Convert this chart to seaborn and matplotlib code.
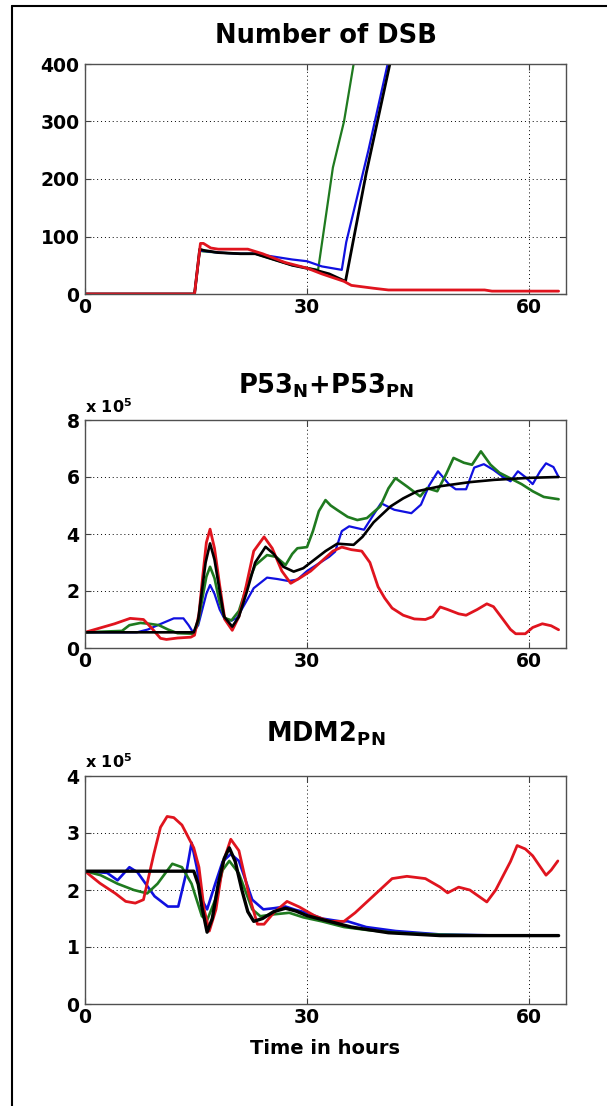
import matplotlib
matplotlib.use("Agg")
import matplotlib.pyplot as plt
from matplotlib.lines import Line2D
import seaborn as sns

sns.set_theme(style="white")
plt.rcParams['font.family'] = ['DejaVu Sans']
plt.rcParams['font.weight'] = 'bold'
plt.rcParams['mathtext.fontset'] = 'dejavusans'
plt.rcParams['mathtext.default'] = 'bf'
plt.rcParams['text.color'] = 'black'
plt.rcParams['xtick.color'] = 'black'
plt.rcParams['ytick.color'] = 'black'

# --- Number of DSB ---
dsb_black_t = [0, 14.8, 15.5, 16, 18, 21, 23, 26, 28, 31, 33, 35.2, 38, 41.2]
dsb_black_v = [0, 0, 78, 76, 72, 70, 70, 58, 50, 42, 35, 22, 210, 400]
dsb_blue_t = [0, 14.8, 15.5, 16, 18, 21, 23, 25, 28, 30, 32, 34.7, 35.3, 38.3, 40.9]
dsb_blue_v = [0, 0, 76, 75, 72, 70, 70, 66, 60, 57, 48, 42, 90, 250, 400]
dsb_green_t = [0, 14.8, 15.5, 16, 18, 21, 23, 26, 28, 31.5, 33.5, 35, 36.3]
dsb_green_v = [0, 0, 75, 74, 72, 70, 70, 58, 50, 42, 220, 300, 400]
dsb_red_t = [0, 14.8, 15.6, 16, 17, 18, 22, 24, 27, 30, 32, 35, 36, 39, 41, 54, 55, 64]
dsb_red_v = [0, 0, 88, 88, 80, 78, 78, 70, 55, 45, 35, 22, 15, 10, 7, 7, 5, 5]

# --- P53_N + P53_PN (x 1e5) ---
p53_black_t = [0, 14.7, 15.3, 15.8, 16.3, 16.9, 17.5, 18.2, 18.8, 19.9, 20.8, 21.9, 23.0, 24.4,
               25.5, 26.8, 28.2, 29.5, 31, 32.5, 34.1, 36.3, 37.5, 39.0, 41.3, 43, 44.9, 48.1,
               52, 55.3, 60, 64]
p53_black_v = [0.55, 0.55, 1.0, 2.0, 3.0, 3.67, 3.1, 2.0, 1.1, 0.75, 1.1, 2.0, 3.0, 3.55,
               3.3, 2.85, 2.68, 2.8, 3.1, 3.4, 3.66, 3.62, 3.9, 4.41, 4.97, 5.25, 5.5, 5.68,
               5.82, 5.9, 5.97, 6.0]
p53_red_t = [0, 2, 4, 6.1, 7.9, 9, 10.2, 11, 12.5, 14.3, 14.8, 15.4, 15.9, 16.4, 16.9, 17.5,
             18.2, 18.9, 19.9, 20.8, 21.8, 22.8, 24.2, 25.3, 26.6, 27.8, 29, 30.5, 32, 33.5,
             34.7, 36, 37.4, 38.5, 39.6, 40.5, 41.5, 43, 44.5, 46, 47, 48, 49, 50.5, 51.5,
             53, 54.3, 55.2, 56.5, 57.5, 58.2, 59.5, 60.5, 61.8, 63, 64]
p53_red_v = [0.55, 0.7, 0.85, 1.04, 1.0, 0.7, 0.34, 0.3, 0.35, 0.38, 0.45, 1.2, 2.5, 3.7,
             4.17, 3.5, 2.2, 1.0, 0.62, 1.1, 2.2, 3.4, 3.9, 3.5, 2.7, 2.27, 2.45, 2.7, 3.05,
             3.4, 3.54, 3.45, 3.4, 3.0, 2.15, 1.75, 1.4, 1.15, 1.02, 1.0, 1.1, 1.44, 1.35,
             1.2, 1.15, 1.35, 1.55, 1.45, 1.0, 0.65, 0.5, 0.5, 0.72, 0.85, 0.78, 0.64]
p53_green_t = [0, 5, 6, 7.5, 8.7, 10, 11.2, 12.5, 14.7, 15.3, 15.9, 16.4, 16.9, 17.5, 18.2,
               18.9, 19.8, 20.8, 21.9, 23, 24.6, 25.8, 27.1, 28.0, 28.7, 30.0, 30.8, 31.6,
               32.5, 33.2, 34.1, 35.5, 36.8, 38.1, 39.9, 41.0, 41.95, 43.5, 45.3, 46.2, 47.6,
               48.8, 49.8, 51.2, 52.3, 53.5, 54.8, 56, 57.5, 59, 60.5, 62, 64]
p53_green_v = [0.55, 0.6, 0.8, 0.88, 0.85, 0.8, 0.65, 0.52, 0.5, 0.9, 1.8, 2.5, 2.85, 2.45,
               1.6, 1.05, 0.97, 1.3, 2.2, 2.9, 3.26, 3.2, 2.91, 3.3, 3.5, 3.54, 4.1, 4.8, 5.19,
               5.0, 4.84, 4.6, 4.49, 4.56, 4.97, 5.6, 5.96, 5.67, 5.32, 5.61, 5.5, 6.1, 6.67,
               6.5, 6.43, 6.9, 6.43, 6.15, 5.95, 5.75, 5.5, 5.3, 5.22]
p53_blue_t = [0, 7, 8.5, 10, 12, 13.3, 14.0, 14.6, 15.3, 15.9, 16.4, 16.9, 17.5, 18.2, 18.9,
              19.8, 20.5, 21.5, 22.8, 24.6, 26, 27.5, 28.7, 30, 31.5, 33, 33.8, 34.7, 35.7,
              37.7, 38.8, 40.0, 41.8, 44.1, 45.4, 46.5, 47.7, 49.2, 50.1, 51.5, 52.6, 53.9,
              55.2, 56.5, 57.5, 58.5, 59.5, 60.5, 61.5, 62.3, 63.3, 64]
p53_blue_v = [0.55, 0.55, 0.65, 0.82, 1.04, 1.04, 0.8, 0.55, 0.8, 1.4, 1.9, 2.21, 1.9, 1.35,
              1.0, 0.96, 1.05, 1.5, 2.1, 2.47, 2.42, 2.35, 2.4, 2.7, 2.95, 3.2, 3.38, 4.1,
              4.27, 4.15, 4.6, 5.08, 4.85, 4.73, 5.03, 5.7, 6.2, 5.74, 5.57, 5.57, 6.33, 6.45,
              6.25, 6.0, 5.85, 6.2, 6.0, 5.75, 6.2, 6.48, 6.35, 6.0]

# --- MDM2_PN (x 1e5) ---
mdm_black_t = [0, 14.7, 15.3, 15.8, 16.5, 17.2, 18.0, 18.8, 19.5, 20.3, 21.2, 22, 22.8, 24,
               25.5, 27.1, 28.5, 30, 33, 36, 41, 48, 64]
mdm_black_v = [2.33, 2.33, 2.1, 1.7, 1.26, 1.5, 2.1, 2.55, 2.74, 2.5, 2.0, 1.62, 1.45, 1.5,
               1.62, 1.68, 1.63, 1.55, 1.45, 1.35, 1.25, 1.2, 1.2]
mdm_red_t = [0, 2, 4.1, 5.5, 6.8, 7.9, 9.3, 10.2, 11.1, 12, 13.1, 14.7, 15.4, 16.1, 16.8,
             17.7, 18.7, 19.7, 20.8, 22.2, 23.3, 24.2, 25.5, 27.3, 29, 31, 33, 35, 36.5, 39,
             41.5, 43.5, 46, 48, 49, 50.5, 52, 54.3, 55.5, 57.5, 58.4, 59.5, 60.5, 62.3, 63,
             63.9]
mdm_red_v = [2.33, 2.12, 1.94, 1.8, 1.77, 1.83, 2.63, 3.1, 3.29, 3.27, 3.14, 2.74, 2.4, 1.66,
             1.28, 1.66, 2.5, 2.89, 2.69, 1.89, 1.4, 1.4, 1.6, 1.8, 1.7, 1.55, 1.45, 1.45,
             1.6, 1.9, 2.2, 2.24, 2.2, 2.05, 1.95, 2.05, 2.0, 1.79, 2.0, 2.5, 2.78, 2.72, 2.6,
             2.26, 2.35, 2.51]
mdm_green_t = [0, 2.1, 4.4, 6.6, 8.4, 9.8, 11.8, 13.1, 14.4, 15.8, 16.5, 17.6, 18.6, 19.5,
               20.8, 22.6, 23.7, 25.3, 27.6, 29.5, 32, 35, 38, 42, 47, 55]
mdm_green_v = [2.33, 2.26, 2.11, 2.0, 1.94, 2.11, 2.46, 2.4, 2.11, 1.54, 1.47, 1.83, 2.35,
               2.51, 2.29, 1.66, 1.54, 1.57, 1.6, 1.52, 1.45, 1.35, 1.3, 1.25, 1.22, 1.2]
mdm_blue_t = [0, 3, 4.4, 6.0, 7.1, 9.4, 11.2, 12.6, 13.7, 14.4, 15.1, 15.8, 16.5, 17.6, 18.6,
              19.7, 20.8, 22.6, 24.1, 25.5, 27.1, 28.5, 30, 32, 34.5, 35.5, 38, 42, 48, 56.6]
mdm_blue_v = [2.33, 2.3, 2.17, 2.4, 2.31, 1.89, 1.71, 1.71, 2.31, 2.83, 2.4, 1.83, 1.66, 2.11,
              2.5, 2.63, 2.51, 1.83, 1.66, 1.68, 1.71, 1.65, 1.6, 1.5, 1.45, 1.45, 1.35, 1.28,
              1.22, 1.2]

RED, GREEN, BLUE, BLACK = '#e0141e', '#1f7a1f', '#1010e0', '#000000'

W, H = 607, 1106
fig = plt.figure(figsize=(W / 100, H / 100), dpi=100)
AX_L, AX_R = 85, 566

def make_ax(top_px, bot_px):
    return fig.add_axes([AX_L / W, 1 - bot_px / H, (AX_R - AX_L) / W, (bot_px - top_px) / H])

ax1 = make_ax(64, 294)
ax2 = make_ax(420, 648)
ax3 = make_ax(776, 1004)

series = [
    (ax1, [(dsb_green_t, dsb_green_v, GREEN, 1.6), (dsb_blue_t, dsb_blue_v, BLUE, 1.6),
           (dsb_black_t, dsb_black_v, BLACK, 2.0), (dsb_red_t, dsb_red_v, RED, 2.0)]),
    (ax2, [(p53_blue_t, p53_blue_v, BLUE, 1.6), (p53_green_t, p53_green_v, GREEN, 1.9),
           (p53_red_t, p53_red_v, RED, 2.0), (p53_black_t, p53_black_v, BLACK, 1.9)]),
    (ax3, [(mdm_blue_t, mdm_blue_v, BLUE, 1.9), (mdm_green_t, mdm_green_v, GREEN, 1.9),
           (mdm_red_t, mdm_red_v, RED, 2.0), (mdm_black_t, mdm_black_v, BLACK, 2.4)]),
]
for ax, lines in series:
    for t, v, c, lw in lines:
        sns.lineplot(x=t, y=v, ax=ax, color=c, lw=lw, sort=False, estimator=None)

ylims = [(0, 400), (0, 8), (0, 4)]
yticks = [[0, 100, 200, 300, 400], [0, 2, 4, 6, 8], [0, 1, 2, 3, 4]]
xticks = [0, 30, 60]

for ax, yl, yt in zip([ax1, ax2, ax3], ylims, yticks):
    ax.set_xlim(0, 65)
    ax.set_ylim(*yl)
    ax.set_xticks(xticks)
    ax.set_yticks(yt)
    ax.tick_params(direction='in', length=4, width=0.8, labelsize=13.5, labelcolor='black',
                   bottom=True, left=True, top=True, right=True, color='#404040')
    ax.tick_params(axis='y', pad=4)
    ax.tick_params(axis='x', pad=3)
    for lab in ax.get_xticklabels() + ax.get_yticklabels():
        lab.set_fontweight('bold')
    ax.grid(True, color='black', linestyle=(0, (1, 3)), linewidth=0.7)
    for s in ax.spines.values():
        s.set_color('#505050')
        s.set_linewidth(1.0)
    ax.set_xlabel('')
    ax.set_ylabel('')

cx = (AX_L + AX_R) / 2 / W
titles = ['Number of DSB', r'P53$_\mathbf{N}$+P53$_\mathbf{PN}$', r'MDM2$_\mathbf{PN}$']
title_base = [43, 393, 742]
for title, yb in zip(titles, title_base):
    fig.text(cx, 1 - yb / H, title, fontsize=18.5, fontweight='bold', color='black',
             ha='center', va='baseline')

for yb in (413, 768):
    fig.text(AX_L / W, 1 - yb / H, r'x 10$^5$', fontsize=11.5, fontweight='bold',
             color='black', ha='left', va='baseline')

fig.text(cx, 1 - 1054 / H, 'Time in hours', fontsize=14, fontweight='bold', color='black',
         ha='center', va='baseline')

# outer frame (left and top edges visible)
fig.add_artist(Line2D([12.5 / W, 12.5 / W], [0, 1 - 6 / H], transform=fig.transFigure,
                      color='black', lw=1.5))
fig.add_artist(Line2D([12.5 / W, 1], [1 - 6 / H, 1 - 6 / H], transform=fig.transFigure,
                      color='black', lw=1.5))

fig.savefig('out.png', dpi=100)
